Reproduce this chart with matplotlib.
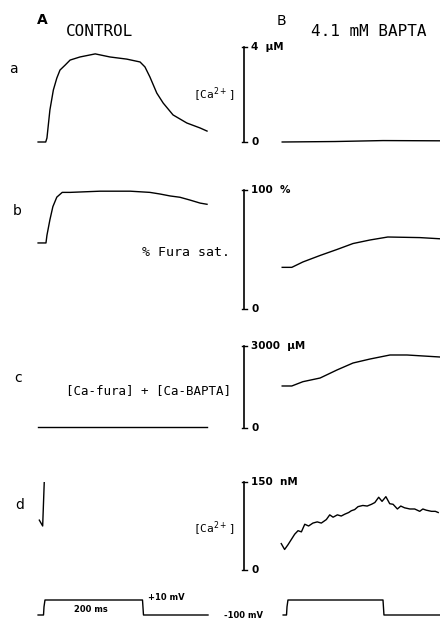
import matplotlib
matplotlib.use("Agg")
import matplotlib.pyplot as plt

# ---- data (time in ms from pulse onset) ----
# row a: [Ca2+] in uM
t_a_ctrl = [-12, 3.5, 6, 12, 19, 26, 32.5, 43, 53, 73, 104, 134, 168, 195, 205, 215, 229, 242, 262, 290, 317, 331]
ca_a_ctrl = [0.0, 0.0, 0.17, 1.35, 2.19, 2.69, 3.03, 3.24, 3.45, 3.58, 3.71, 3.58, 3.49, 3.37, 3.16, 2.74, 2.06, 1.64, 1.14, 0.80, 0.59, 0.46]
t_a_bapta = [-10, 100, 200, 319]
ca_a_bapta = [0.0, 0.02, 0.06, 0.05]

# row b: % fura saturation
t_b_ctrl = [-12, 4, 6, 12, 18, 26, 37, 53, 114, 175, 215, 236, 256, 276, 296, 317, 331]
sat_b_ctrl = [55.5, 55.5, 62, 75, 86, 94, 98, 98, 99, 99, 98, 96.6, 95, 93.9, 91.6, 89, 88]
t_b_bapta = [-10, 10, 33, 69, 104, 137.5, 173, 210, 277, 319]
sat_b_bapta = [35, 35, 39.5, 45, 50, 55, 58, 60.5, 60, 59]

# row c: [Ca-fura] + [Ca-BAPTA] in uM
t_c_ctrl = [-12, 331]
bound_c_ctrl = [35, 35]
t_c_bapta = [-10, 10, 33, 69, 104, 137.5, 173, 214.6, 250, 319]
bound_c_bapta = [1537, 1537, 1694, 1829, 2122, 2378, 2524, 2671, 2671, 2597]

# row d: [Ca2+] in nM
t_d_ctrl = [-9.5, -2.7, 0.6]
ca_d_ctrl = [85, 75, 152]
t_d_bapta = [-12, -5, 2, 9, 16, 23, 30, 37, 45, 54, 63, 71.5, 82, 89, 96, 105, 113, 120, 128.5,
             134, 141, 148, 158, 167, 176, 183, 191, 198, 206, 214, 221, 230, 237, 245, 256,
             266, 276.5, 283, 290, 301, 309, 315]
ca_d_bapta = [45, 35, 43, 52, 61, 67, 65, 78, 75, 80, 82, 80, 86, 94, 90, 94, 92, 95, 98,
              101, 103, 108, 110, 109, 112, 115, 124, 117, 125, 113, 112, 104, 109, 106, 104,
              104, 100, 104, 102, 100, 100, 98]

# voltage protocol, mV
t_v_ctrl = [-12, -1, 0, 2, 200, 202, 333]
v_ctrl = [-100, -100, -40, 10, 10, -100, -100]
t_v_bapta = [-8, -1, 0, 2, 200, 202, 319]
v_bapta = [-100, -100, -40, 10, 10, -100, -100]

scale_tops = [4, 100, 3000, 150]
scale_units = ["4  \u03bcM", "100  %", "3000  \u03bcM", "150  nM"]

W, H = 440, 619
fig = plt.figure(figsize=(W / 100, H / 100), dpi=100)


def px_axes(left, right, top, bottom, x0, xs, y0, ys):
    # axes placed by image pixels; x0/y0 = pixel of t=0 / value 0, xs/ys = px per unit
    ax = fig.add_axes([left / W, 1 - bottom / H, (right - left) / W, (bottom - top) / H])
    ax.set_xlim((left - x0) / xs, (right - x0) / xs)
    ax.set_ylim((y0 - bottom) / ys, (y0 - top) / ys)
    ax.axis("off")
    return ax


def ftext(x, y, s, **kw):
    kw.setdefault("ha", "center")
    kw.setdefault("va", "center")
    fig.text(x / W, 1 - y / H, s, **kw)


LX0, LXS = 44, 0.4925
RX0, RXS = 287, 0.48
lw = 1.0

rows = [
    # (y0, ys, left band, right band)
    (142, 23.75, (40, 150), (40, 150)),
    (309, 1.19, (180, 315), (180, 315)),
    (428, 82 / 3000, (335, 435), (335, 435)),
    (570, 88 / 150, (482, 578), (470, 578)),
]
ctrl = [(t_a_ctrl, ca_a_ctrl), (t_b_ctrl, sat_b_ctrl), (t_c_ctrl, bound_c_ctrl), (t_d_ctrl, ca_d_ctrl)]
bapta = [(t_a_bapta, ca_a_bapta), (t_b_bapta, sat_b_bapta), (t_c_bapta, bound_c_bapta), (t_d_bapta, ca_d_bapta)]

bar_t = (244 - RX0) / RXS
tick_t = [(241.5 - RX0) / RXS, (247 - RX0) / RXS]
lab_t = (251 - RX0) / RXS

for i, (y0, ys, lb, rb) in enumerate(rows):
    axl = px_axes(30, 215, lb[0], lb[1], LX0, LXS, y0, ys)
    axl.plot(*ctrl[i], color="black", lw=lw)
    axr = px_axes(236, 440, rb[0], rb[1], RX0, RXS, y0, ys)
    axr.plot(*bapta[i], color="black", lw=lw)
    top = scale_tops[i]
    axr.plot([bar_t, bar_t], [0, top], color="black", lw=1.2)
    axr.plot(tick_t, [top, top], color="black", lw=1.0)
    axr.plot(tick_t, [0, 0], color="black", lw=1.0)
    axr.text(lab_t, top, scale_units[i], ha="left", va="center", fontsize=7.5, fontweight="bold")
    axr.text(lab_t, 0, "0", ha="left", va="center", fontsize=7.5, fontweight="bold")

# voltage protocol
vy0, vys = 615 - 100 * 15 / 110, 15 / 110
axl = px_axes(30, 215, 590, 619, LX0, LXS, vy0, vys)
axl.plot(t_v_ctrl, v_ctrl, color="black", lw=lw)
axr = px_axes(236, 440, 590, 619, RX0, RXS, vy0, vys)
axr.plot(t_v_bapta, v_bapta, color="black", lw=lw)

mono = "DejaVu Sans Mono"
ftext(42, 20, "A", fontsize=10, fontweight="bold")
ftext(100, 31, "CONTROL", fontsize=11.5, family=mono)
ftext(281, 21, "B", fontsize=10)
ftext(369, 32, "4.1 mM BAPTA", fontsize=11.5, family=mono)
for lab, x, y in [("a", 13, 69), ("b", 17, 211), ("c", 18, 378), ("d", 20, 505)]:
    ftext(x, y, lab, fontsize=10)
ftext(214, 95, "[Ca$^{2+}$]", fontsize=8, family=mono)
ftext(214, 529, "[Ca$^{2+}$]", fontsize=8, family=mono)
ftext(186, 252, "% Fura sat.", fontsize=9.5, family=mono)
ftext(148, 391, "[Ca-fura] + [Ca-BAPTA]", fontsize=9, family=mono)
ftext(91, 610, "200 ms", fontsize=6, fontweight="bold")
ftext(166, 597, "+10 mV", fontsize=6, fontweight="bold")
ftext(243, 615, "-100 mV", fontsize=6, fontweight="bold")

fig.savefig("out.png", dpi=100, facecolor="white")
